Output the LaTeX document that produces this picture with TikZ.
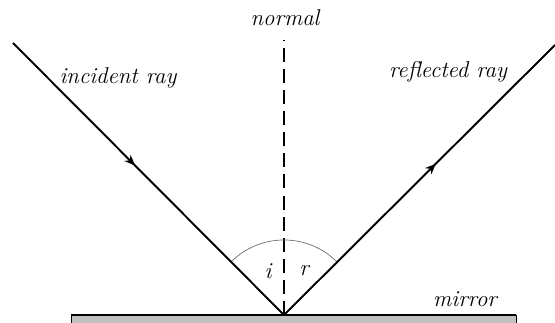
\documentclass[tikz,border=0pt]{standalone}
\usetikzlibrary{decorations.markings,arrows.meta}

\definecolor{mirrorgray}{RGB}{192,192,192}
\definecolor{arcgray}{RGB}{110,110,110}

\tikzset{
    ray/.style={line width=1.1pt, postaction={decorate}},
    lbl/.style={font=\fontsize{13}{15}\selectfont\itshape, inner sep=1pt},
    midarrow/.style={decoration={markings, mark=at position #1 with {\arrow{Stealth[length=6pt, width=5pt]}}}}
}

\begin{document}
\begin{tikzpicture}[x=0.02cm, y=0.02cm]
    \useasboundingbox (0,0) rectangle (555,323);

    % Mirror
    \fill[mirrorgray] (71,-5) rectangle (516,8);
    \draw[thin] (71,-5) -- (71,8) (516,-5) -- (516,8);
    \draw[line width=1.3pt] (71,8) -- (516,8);

    % Points of the rays
    \coordinate (O) at (284,8);
    \coordinate (A) at (13,280);
    \coordinate (B) at (555,278);
    \coordinate (N) at (284,283);

    % Normal
    \draw[line width=0.8pt, dash pattern=on 8pt off 4pt] (O) -- (N);
    \node[lbl] (normal) at (285,305) {normal};

    % Angle arc
    \draw[arcgray, thin] ([shift={(45:75)}]O) arc (45:135:75);
    \node[lbl] (i) at (268,52) {i};
    \node[lbl] (r) at (304,52) {r};

    % Incident and reflected rays
    \draw[ray, midarrow=0.45] (A) -- (O);
    \draw[ray, midarrow=0.56] (O) -- (B);
    \node[lbl] (incident) at (118,245) {incident ray};
    \node[lbl] (reflected) at (448,251) {reflected ray};
    \node[lbl] (mirror) at (465,24) {mirror};
\end{tikzpicture}
\end{document}
